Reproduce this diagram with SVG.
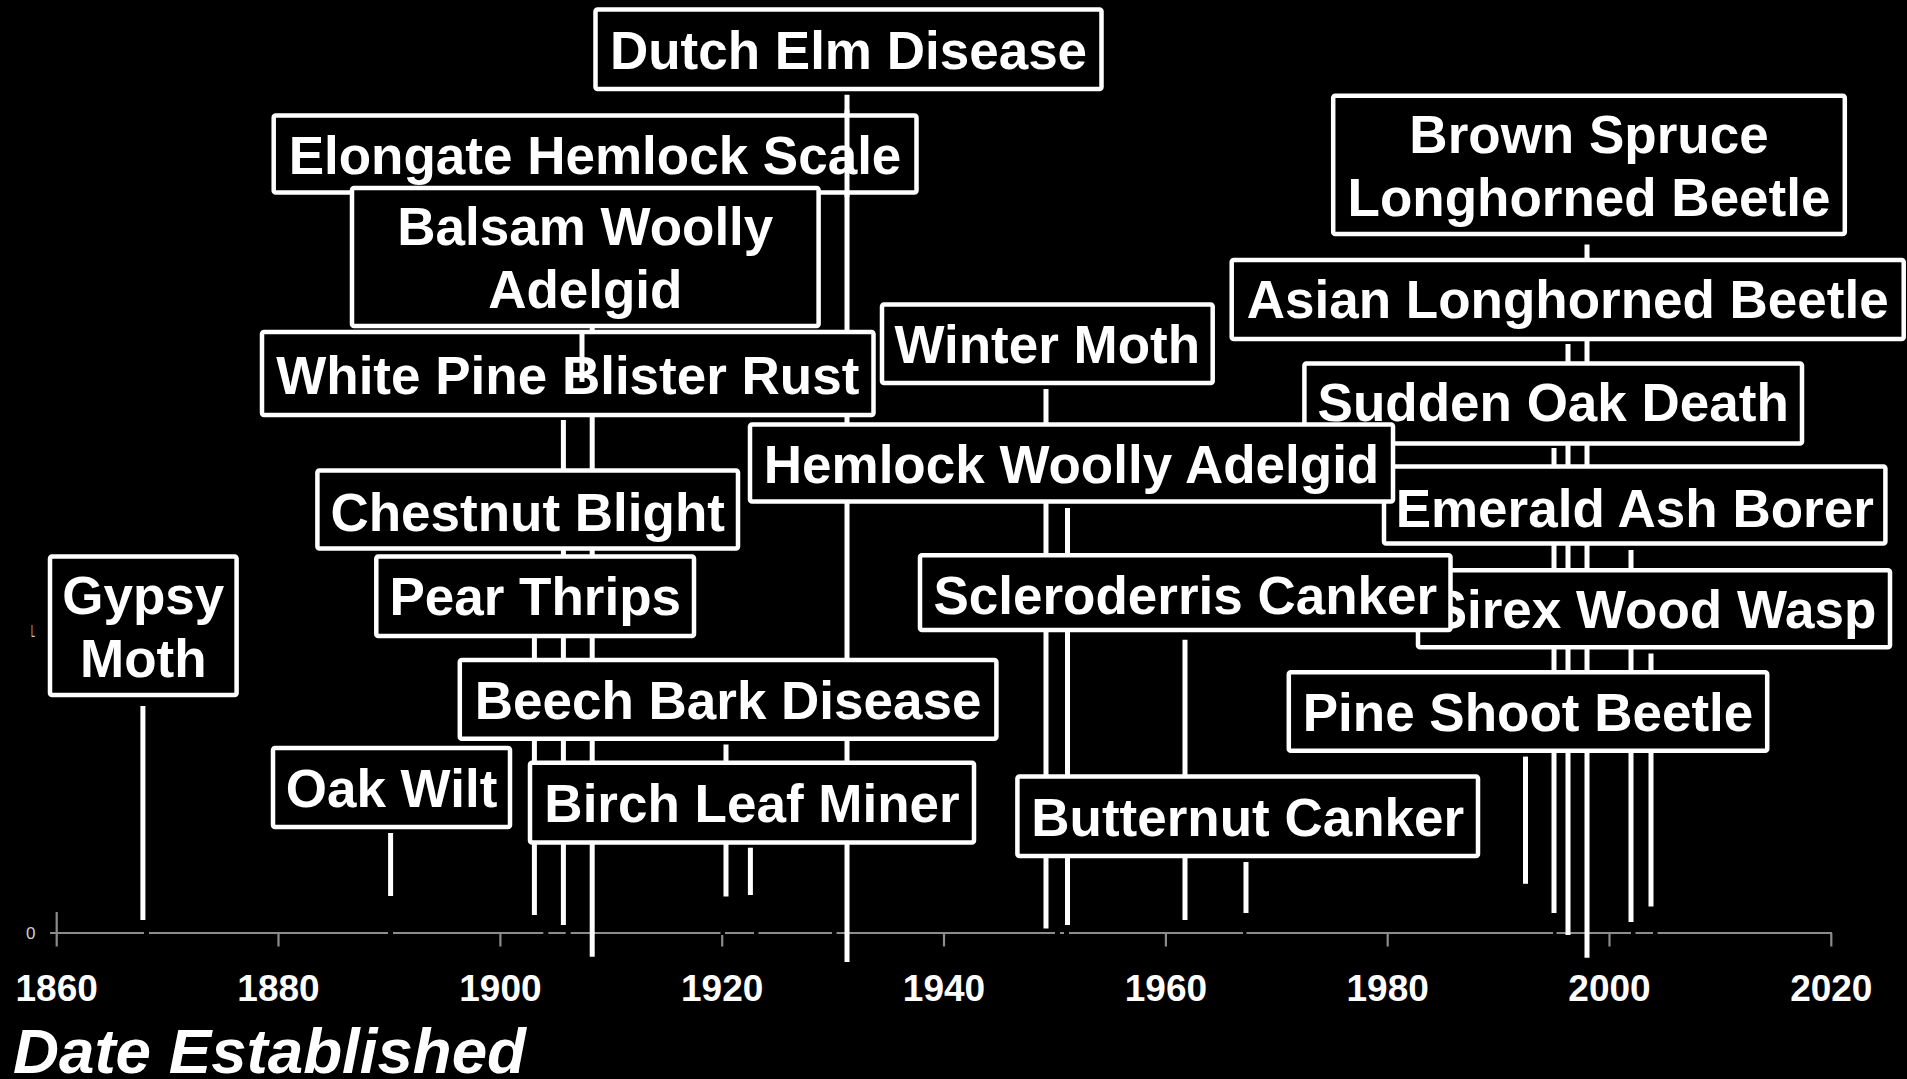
<svg xmlns="http://www.w3.org/2000/svg" width="1907" height="1079" viewBox="0 0 1907 1079">
<style>
.bg{fill:#000}
.box{fill:#000;stroke:#fff;stroke-width:4.5}
.lbl{fill:#fff;font-family:"Liberation Sans",Arial,sans-serif;font-weight:bold;font-size:53px;text-anchor:middle}
.lead{stroke:#fff;stroke-width:5;fill:none}
.axis{stroke:#8c8c8c;stroke-width:2.2;fill:none}
.tick{fill:#fff;font-family:"Liberation Sans",Arial,sans-serif;font-weight:bold;font-size:37px;text-anchor:middle}
.gap{fill:#000}
.small{fill:#d0d0d0;font-family:"Liberation Sans",Arial,sans-serif;font-size:17px}
</style>
<rect class="bg" x="0" y="0" width="1907" height="1079"/>

<g id="axis">
  <line class="axis" x1="50" y1="933" x2="1832" y2="933"/>
  <line class="axis" x1="56.7" y1="912" x2="56.7" y2="946.5"/>
  <line class="axis" x1="278.5" y1="933" x2="278.5" y2="946.5"/>
  <line class="axis" x1="500.4" y1="933" x2="500.4" y2="946.5"/>
  <line class="axis" x1="722.2" y1="933" x2="722.2" y2="946.5"/>
  <line class="axis" x1="944" y1="933" x2="944" y2="946.5"/>
  <line class="axis" x1="1165.9" y1="933" x2="1165.9" y2="946.5"/>
  <line class="axis" x1="1387.7" y1="933" x2="1387.7" y2="946.5"/>
  <line class="axis" x1="1609.5" y1="933" x2="1609.5" y2="946.5"/>
  <line class="axis" x1="1831.3" y1="933" x2="1831.3" y2="946.5"/>
  <rect class="gap" x="144" y="931" width="5" height="4"/>
  <rect class="gap" x="388" y="931" width="5" height="4"/>
  <rect class="gap" x="543.3" y="931" width="5" height="4"/>
  <rect class="gap" x="565.7" y="931" width="5" height="4"/>
  <rect class="gap" x="720.5" y="931" width="4.5" height="4"/>
  <rect class="gap" x="754" y="931" width="4.5" height="4"/>
  <rect class="gap" x="832" y="931" width="4.5" height="4"/>
  <rect class="gap" x="1055" y="931" width="5" height="4"/>
  <rect class="gap" x="1064" y="931" width="5" height="4"/>
  <rect class="gap" x="1243" y="931" width="3.5" height="4"/>
  <rect class="gap" x="1553" y="931" width="3.5" height="4"/>
  <rect class="gap" x="1631" y="931" width="4.5" height="4"/>
  <rect class="gap" x="1653" y="931" width="4.5" height="4"/>
  <text class="tick" x="56.7" y="1001">1860</text>
  <text class="tick" x="278.5" y="1001">1880</text>
  <text class="tick" x="500.4" y="1001">1900</text>
  <text class="tick" x="722.2" y="1001">1920</text>
  <text class="tick" x="944" y="1001">1940</text>
  <text class="tick" x="1165.9" y="1001">1960</text>
  <text class="tick" x="1387.7" y="1001">1980</text>
  <text class="tick" x="1609.5" y="1001">2000</text>
  <text class="tick" x="1831.3" y="1001">2020</text>
  <text class="small" x="26" y="939">0</text>
  <text class="small" x="31" y="637" font-size="16" textLength="4" lengthAdjust="spacingAndGlyphs">L</text>
  <text x="13" y="1073" fill="#fff" font-family="'Liberation Sans',Arial,sans-serif" font-weight="bold" font-style="italic" font-size="63" textLength="513" lengthAdjust="spacingAndGlyphs">Date Established</text>
</g>

<g id="connectors">
  <line class="lead" x1="142.9" y1="706" x2="142.9" y2="920"/>
  <line class="lead" x1="390.6" y1="833" x2="390.6" y2="896"/>
  <line class="lead" x1="534.4" y1="638" x2="534.4" y2="915"/>
  <line class="lead" x1="563.4" y1="420" x2="563.4" y2="925"/>
  <line class="lead" x1="592.2" y1="326" x2="592.2" y2="956.7"/>
  <line class="lead" x1="726" y1="744.5" x2="726" y2="896.5"/>
  <line class="lead" x1="750.4" y1="847.7" x2="750.4" y2="895"/>
  <line class="lead" x1="847" y1="94.7" x2="847" y2="962"/>
  <line class="lead" x1="1046" y1="389" x2="1046" y2="928.5"/>
  <line class="lead" x1="1067.5" y1="508" x2="1067.5" y2="925"/>
  <line class="lead" x1="1185" y1="639.7" x2="1185" y2="920"/>
  <line class="lead" x1="1246" y1="862" x2="1246" y2="913"/>
  <line class="lead" x1="1525.5" y1="756.6" x2="1525.5" y2="883.8"/>
  <line class="lead" x1="1554" y1="448" x2="1554" y2="913"/>
  <line class="lead" x1="1568" y1="344" x2="1568" y2="935"/>
  <line class="lead" x1="1587" y1="244.5" x2="1587" y2="957.7"/>
  <line class="lead" x1="1631" y1="550" x2="1631" y2="922"/>
  <line class="lead" x1="1651" y1="653.4" x2="1651" y2="906.4"/>
</g>

<g id="dutch-elm-disease"><rect class="box" x="595.5" y="9.6" width="506" height="79.4" rx="2"/><text class="lbl" x="848.5" y="69">Dutch Elm Disease</text></g>
<g id="elongate-hemlock-scale"><rect class="box" x="273.7" y="115.4" width="642.8" height="77" rx="2"/><text class="lbl" x="595" y="174">Elongate Hemlock Scale</text></g>
<g id="balsam-woolly-adelgid"><rect class="box" x="352" y="188" width="466.6" height="138" rx="2"/><text class="lbl" x="585.3" y="244.5">Balsam Woolly</text><text class="lbl" x="585.3" y="308">Adelgid</text></g>
<g id="white-pine-blister-rust"><rect class="box" x="262" y="332" width="611.5" height="83" rx="2"/><text class="lbl" x="567.8" y="394">White Pine Blister Rust</text></g>
<g id="winter-moth"><rect class="box" x="882" y="304.5" width="330.7" height="78.5" rx="2"/><text class="lbl" x="1047.3" y="363">Winter Moth</text></g>
<g id="sudden-oak-death"><rect class="box" x="1304.4" y="363.5" width="497.6" height="80" rx="2"/><text class="lbl" x="1553.2" y="421">Sudden Oak Death</text></g>
<g id="emerald-ash-borer"><rect class="box" x="1384" y="466.6" width="501.4" height="77" rx="2"/><text class="lbl" x="1634.7" y="527">Emerald Ash Borer</text></g>
<g id="hemlock-woolly-adelgid"><rect class="box" x="750" y="424.5" width="643" height="77" rx="2"/><text class="lbl" x="1071.5" y="483">Hemlock Woolly Adelgid</text></g>
<g id="chestnut-blight"><rect class="box" x="317.4" y="470.5" width="420.6" height="78" rx="2"/><text class="lbl" x="527.7" y="531">Chestnut Blight</text></g>
<g id="gypsy-moth"><rect class="box" x="50" y="556.5" width="186.6" height="138.5" rx="2"/><text class="lbl" x="143.3" y="614">Gypsy</text><text class="lbl" x="143.3" y="677">Moth</text></g>
<g id="pear-thrips"><rect class="box" x="376.3" y="556.5" width="317.7" height="79.5" rx="2"/><text class="lbl" x="535.2" y="615">Pear Thrips</text></g>
<g id="sirex-wood-wasp"><rect class="box" x="1418" y="570.3" width="472" height="77" rx="2"/><text class="lbl" x="1654" y="628">Sirex Wood Wasp</text></g>
<g id="scleroderris-canker"><rect class="box" x="920" y="555.3" width="530.5" height="74.7" rx="2"/><text class="lbl" x="1185.3" y="614">Scleroderris Canker</text></g>
<g id="beech-bark-disease"><rect class="box" x="459.8" y="660" width="536.6" height="78.7" rx="2"/><text class="lbl" x="728.1" y="719">Beech Bark Disease</text></g>
<g id="oak-wilt"><rect class="box" x="273" y="748" width="237" height="79" rx="2"/><text class="lbl" x="391.5" y="807">Oak Wilt</text></g>
<g id="birch-leaf-miner"><rect class="box" x="530" y="762.8" width="444" height="79.7" rx="2"/><text class="lbl" x="752" y="822">Birch Leaf Miner</text></g>
<g id="butternut-canker"><rect class="box" x="1017.4" y="776.5" width="460.6" height="79.5" rx="2"/><text class="lbl" x="1247.7" y="836">Butternut Canker</text></g>
<g id="brown-spruce-longhorned-beetle"><rect class="box" x="1333.2" y="95.7" width="511.6" height="138.3" rx="2"/><text class="lbl" x="1589" y="153">Brown Spruce</text><text class="lbl" x="1589" y="216">Longhorned Beetle</text></g>
<g id="asian-longhorned-beetle"><rect class="box" x="1231.7" y="260" width="672" height="79" rx="2"/><text class="lbl" x="1567.7" y="318">Asian Longhorned Beetle</text></g>
<g id="pine-shoot-beetle"><rect class="box" x="1288.8" y="672.3" width="478.4" height="78.4" rx="2"/><text class="lbl" x="1528" y="731">Pine Shoot Beetle</text></g>

<g id="connector-overlays">
  <line class="lead" x1="847" y1="110" x2="847" y2="197"/>
  <line class="lead" x1="582" y1="331" x2="582" y2="382"/>
</g>
</svg>
